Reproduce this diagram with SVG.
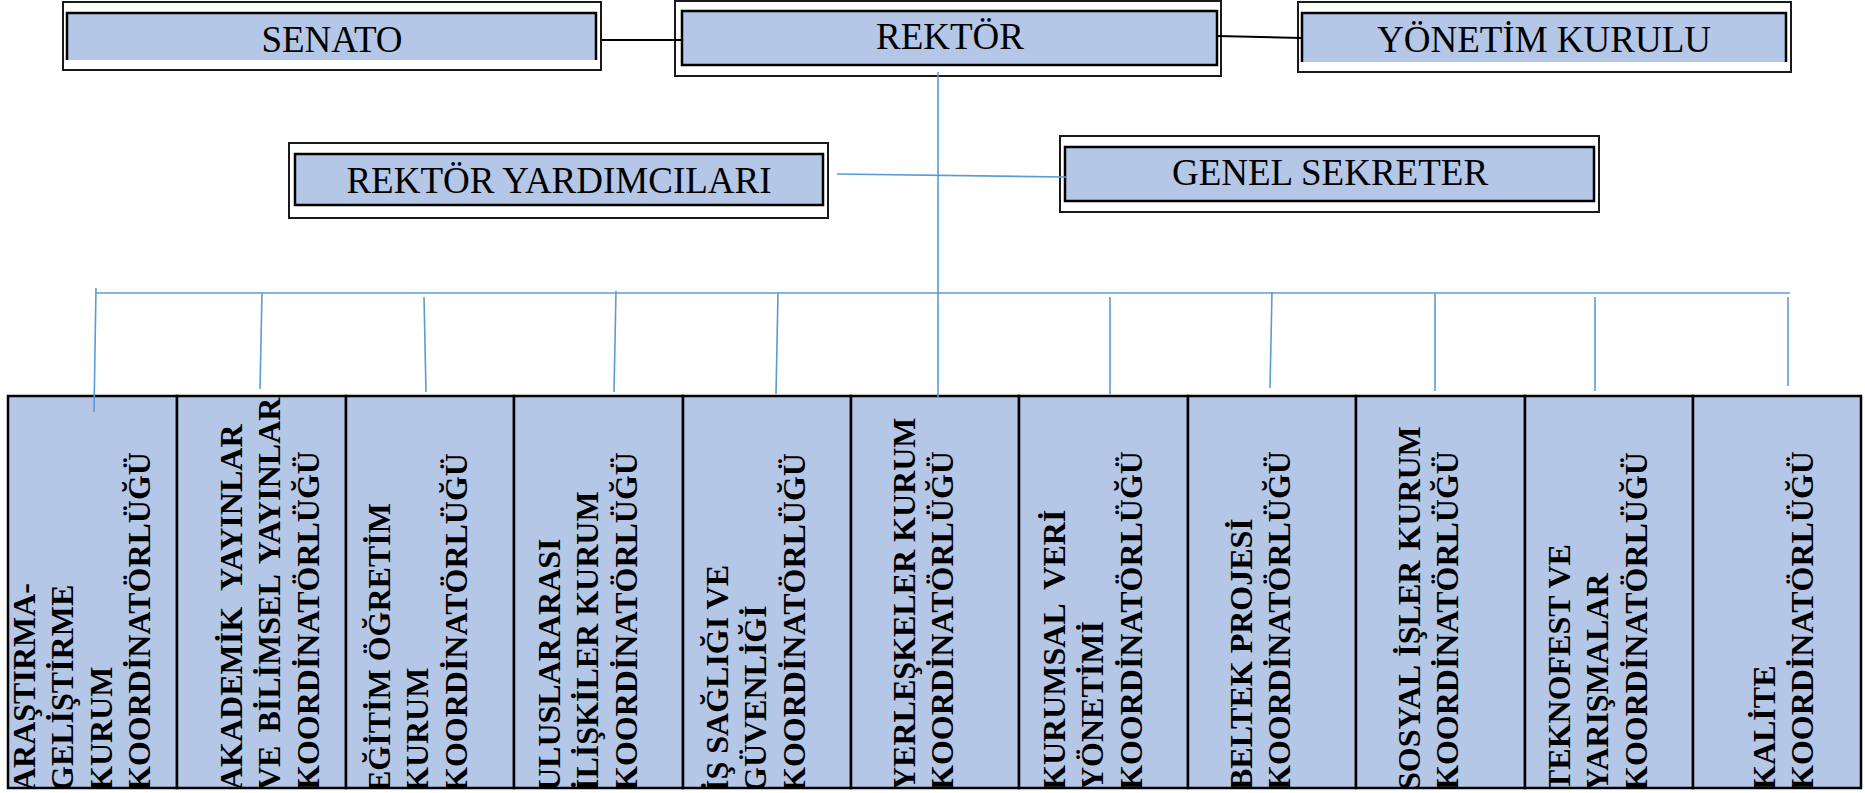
<svg xmlns="http://www.w3.org/2000/svg" width="1865" height="793" viewBox="0 0 1865 793">
<style>
.outer{fill:#fff;stroke:#1a1a1a;stroke-width:2}
.inner{fill:#B4C7E7;stroke:#000;stroke-width:2.5}
.fillonly{fill:#B4C7E7;stroke:none}
.edge{fill:none;stroke:#000;stroke-width:2.5}
.t{font-family:"Liberation Serif","Times New Roman",serif;font-size:37px;fill:#000;text-anchor:middle}
.cell{fill:#B4C7E7;stroke:#000;stroke-width:2.5}
.v{font-family:"Liberation Serif","Times New Roman",serif;font-size:32px;font-weight:bold;fill:#000}
.blk{stroke:#000;stroke-width:2;fill:none}
.blu{stroke:#5B9BD5;stroke-width:1.6;fill:none}
</style>
<defs>
<clipPath id="tbl" clipPathUnits="userSpaceOnUse"><rect x="8" y="396" width="1853" height="391"/></clipPath>
</defs>

<g id="senato">
<rect class="outer" x="63" y="2" width="538" height="68"/>
<rect class="fillonly" x="67" y="13" width="529" height="47"/>
<path class="edge" d="M67 60 V13 H596 V60"/>
<text class="t" x="332" y="52">SENATO</text>
</g>

<g id="rektor">
<rect class="outer" x="675" y="1" width="546" height="75"/>
<rect class="inner" x="682" y="11" width="535" height="54"/>
<text class="t" x="950" y="49">REKTÖR</text>
</g>

<g id="yonetim">
<rect class="outer" x="1298" y="2" width="493" height="70"/>
<rect class="fillonly" x="1302" y="13" width="484" height="49"/>
<path class="edge" d="M1302 62 V13 H1786 V62"/>
<text class="t" x="1544" y="52">YÖNETİM KURULU</text>
</g>

<g id="rektor-yardimcilari">
<rect class="outer" x="289" y="143" width="539" height="75"/>
<rect class="inner" x="295" y="154" width="528" height="51"/>
<text class="t" x="559" y="193">REKTÖR YARDIMCILARI</text>
</g>

<g id="genel-sekreter">
<rect class="outer" x="1060" y="136" width="539" height="76"/>
<rect class="inner" x="1065" y="147" width="529" height="54"/>
<text class="t" x="1330" y="185">GENEL SEKRETER</text>
</g>

<g id="c1"><rect class="cell" x="8" y="396" width="169" height="392"/>
<g clip-path="url(#tbl)"><text class="v" transform="translate(35,791) rotate(-90)"><tspan x="0" y="0">ARAŞTIRMA-</tspan><tspan x="0" y="38.3">GELİŞTİRME</tspan><tspan x="0" y="76.6">KURUM</tspan><tspan x="0" y="115">KOORDİNATÖRLÜĞÜ</tspan></text></g></g>

<g id="c2"><rect class="cell" x="177" y="396" width="169" height="392"/>
<g clip-path="url(#tbl)"><text class="v" transform="translate(242,790) rotate(-90)"><tspan x="0" y="0" word-spacing="9">AKADEMİK YAYINLAR</tspan><tspan x="0" y="38.3" word-spacing="5">VE BİLİMSEL YAYINLAR</tspan><tspan x="0" y="76.6">KOORDİNATÖRLÜĞÜ</tspan></text></g></g>

<g id="c3"><rect class="cell" x="346" y="396" width="168" height="392"/>
<g clip-path="url(#tbl)"><text class="v" transform="translate(390,792) rotate(-90)"><tspan x="0" y="0">EĞİTİM ÖĞRETİM</tspan><tspan x="0" y="38.3">KURUM</tspan><tspan x="0" y="76.6">KOORDİNATÖRLÜĞÜ</tspan></text></g></g>

<g id="c4"><rect class="cell" x="514" y="396" width="169" height="392"/>
<g clip-path="url(#tbl)"><text class="v" transform="translate(560,791) rotate(-90)"><tspan x="0" y="0">ULUSLARARASI</tspan><tspan x="0" y="38.3">İLİŞKİLER KURUM</tspan><tspan x="0" y="76.6">KOORDİNATÖRLÜĞÜ</tspan></text></g></g>

<g id="c5"><rect class="cell" x="683" y="396" width="168" height="392"/>
<g clip-path="url(#tbl)"><text class="v" transform="translate(728,792) rotate(-90)"><tspan x="0" y="0">İŞ SAĞLIĞI VE</tspan><tspan x="0" y="38.3">GÜVENLİĞİ</tspan><tspan x="0" y="76.6">KOORDİNATÖRLÜĞÜ</tspan></text></g></g>

<g id="c6"><rect class="cell" x="851" y="396" width="168" height="392"/>
<g clip-path="url(#tbl)"><text class="v" transform="translate(915,790) rotate(-90)"><tspan x="0" y="0">YERLEŞKELER KURUM</tspan><tspan x="0" y="38.3">KOORDİNATÖRLÜĞÜ</tspan></text></g></g>

<g id="c7"><rect class="cell" x="1019" y="396" width="169" height="392"/>
<g clip-path="url(#tbl)"><text class="v" transform="translate(1065,790) rotate(-90)" xml:space="preserve"><tspan x="0" y="0">KURUMSAL  VERİ</tspan><tspan x="0" y="38.3">YÖNETİMİ</tspan><tspan x="0" y="76.6">KOORDİNATÖRLÜĞÜ</tspan></text></g></g>

<g id="c8"><rect class="cell" x="1188" y="396" width="168" height="392"/>
<g clip-path="url(#tbl)"><text class="v" transform="translate(1252,790) rotate(-90)"><tspan x="0" y="0">BELTEK PROJESİ</tspan><tspan x="0" y="38.3">KOORDİNATÖRLÜĞÜ</tspan></text></g></g>

<g id="c9"><rect class="cell" x="1356" y="396" width="169" height="392"/>
<g clip-path="url(#tbl)"><text class="v" transform="translate(1420,790) rotate(-90)"><tspan x="0" y="0" word-spacing="2">SOSYAL İŞLER KURUM</tspan><tspan x="0" y="38.3">KOORDİNATÖRLÜĞÜ</tspan></text></g></g>

<g id="c10"><rect class="cell" x="1525" y="396" width="168" height="392"/>
<g clip-path="url(#tbl)"><text class="v" transform="translate(1570,791) rotate(-90)"><tspan x="0" y="0">TEKNOFEST VE</tspan><tspan x="0" y="38.3">YARIŞMALAR</tspan><tspan x="0" y="76.6">KOORDİNATÖRLÜĞÜ</tspan></text></g></g>

<g id="c11"><rect class="cell" x="1693" y="396" width="168" height="392"/>
<g clip-path="url(#tbl)"><text class="v" transform="translate(1775,790) rotate(-90)"><tspan x="0" y="0">KALİTE</tspan><tspan x="0" y="38.3">KOORDİNATÖRLÜĞÜ</tspan></text></g></g>

<g id="connectors">
<line class="blk" x1="601" y1="40" x2="682" y2="40"/>
<line class="blk" x1="1217" y1="36" x2="1302" y2="38"/>
<line class="blu" x1="938" y1="72" x2="938" y2="398"/>
<line class="blu" x1="837" y1="174" x2="1066" y2="177"/>
<line class="blu" x1="96" y1="293" x2="1790" y2="293"/>
<line class="blu" x1="96" y1="288" x2="94" y2="412"/>
<line class="blu" x1="262" y1="293" x2="260" y2="389"/>
<line class="blu" x1="424" y1="297" x2="426" y2="392"/>
<line class="blu" x1="616" y1="291" x2="614" y2="392"/>
<line class="blu" x1="778" y1="293" x2="776" y2="394"/>
<line class="blu" x1="1110" y1="297" x2="1110" y2="394"/>
<line class="blu" x1="1272" y1="292" x2="1270" y2="388"/>
<line class="blu" x1="1435" y1="293" x2="1435" y2="391"/>
<line class="blu" x1="1595" y1="297" x2="1595" y2="391"/>
<line class="blu" x1="1788" y1="297" x2="1788" y2="386"/>
</g>
</svg>
